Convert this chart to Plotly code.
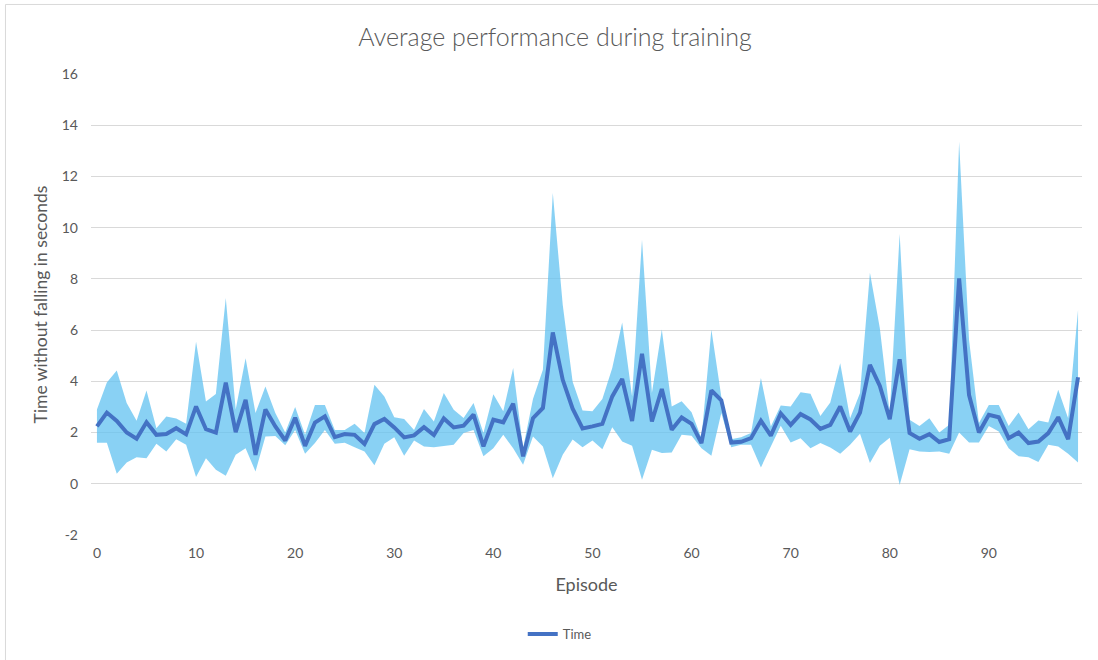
import plotly.graph_objects as go

episodes = list(range(100))

mean_time = [
    2.24, 2.78, 2.45, 2.00, 1.76, 2.40, 1.91, 1.94, 2.17, 1.93,
    3.02, 2.13, 2.00, 3.95, 2.02, 3.28, 1.13, 2.90, 2.24, 1.69,
    2.58, 1.48, 2.39, 2.63, 1.82, 1.94, 1.91, 1.55, 2.33, 2.53,
    2.20, 1.81, 1.89, 2.21, 1.90, 2.55, 2.20, 2.27, 2.70, 1.46,
    2.50, 2.40, 3.13, 1.07, 2.56, 2.96, 5.91, 4.06, 2.93, 2.16,
    2.24, 2.34, 3.41, 4.09, 2.45, 5.08, 2.43, 3.70, 2.11, 2.59,
    2.34, 1.59, 3.65, 3.26, 1.61, 1.64, 1.78, 2.46, 1.88, 2.75,
    2.30, 2.72, 2.51, 2.14, 2.30, 3.02, 2.04, 2.78, 4.64, 3.82,
    2.52, 4.86, 1.98, 1.76, 1.94, 1.63, 1.74, 8.02, 3.47, 2.00,
    2.69, 2.60, 1.78, 2.00, 1.59, 1.65, 1.98, 2.60, 1.74, 4.16,
]

upper_time = [
    2.90, 3.95, 4.42, 3.15, 2.46, 3.64, 2.17, 2.63, 2.55, 2.34,
    5.55, 3.21, 3.51, 7.25, 2.90, 4.90, 2.76, 3.80, 2.76, 2.00,
    3.00, 1.91, 3.08, 3.08, 2.10, 2.10, 2.34, 1.98, 3.87, 3.41,
    2.60, 2.53, 2.10, 2.92, 2.43, 3.54, 2.89, 2.57, 3.15, 1.98,
    3.50, 2.83, 4.52, 1.39, 3.31, 4.45, 11.35, 6.99, 3.98, 2.86,
    2.83, 3.31, 4.52, 6.30, 3.41, 9.53, 3.54, 6.02, 3.02, 3.22,
    2.79, 1.78, 6.02, 3.41, 1.74, 1.82, 1.98, 4.13, 2.24, 3.06,
    3.02, 3.57, 3.52, 2.65, 3.17, 4.71, 2.56, 3.54, 8.24, 6.07,
    2.75, 9.75, 2.50, 2.26, 2.56, 2.00, 2.30, 13.35, 5.62, 2.37,
    3.08, 3.08, 2.26, 2.78, 2.13, 2.47, 2.39, 3.67, 2.56, 6.79,
]

lower_time = [
    1.60, 1.60, 0.39, 0.83, 1.04, 1.00, 1.56, 1.26, 1.74, 1.52,
    0.26, 1.00, 0.55, 0.31, 1.13, 1.39, 0.48, 1.85, 1.87, 1.50,
    2.10, 1.17, 1.59, 2.10, 1.56, 1.60, 1.43, 1.26, 0.72, 1.56,
    1.82, 1.09, 1.69, 1.46, 1.43, 1.48, 1.52, 1.98, 2.10, 1.07,
    1.39, 1.91, 1.39, 0.74, 1.85, 1.46, 0.22, 1.13, 1.73, 1.43,
    1.69, 1.35, 2.21, 1.65, 1.48, 0.16, 1.33, 1.20, 1.22, 1.91,
    1.88, 1.39, 1.09, 2.76, 1.43, 1.52, 1.52, 0.64, 1.46, 2.27,
    1.61, 1.78, 1.39, 1.59, 1.42, 1.17, 1.52, 1.95, 0.81, 1.48,
    1.80, -0.05, 1.35, 1.26, 1.24, 1.26, 1.17, 2.00, 1.61, 1.61,
    2.26, 2.04, 1.39, 1.07, 1.04, 0.85, 1.52, 1.46, 1.17, 0.83,
]

x_ticks = [0, 10, 20, 30, 40, 50, 60, 70, 80, 90]
y_ticks = [-2, 0, 2, 4, 6, 8, 10, 12, 14, 16]
y_tick_labels = ["-2", "0", "2", "4", "6", "8", "10", "12", "14", "16"]

TEXT = "#595959"
FONT = "Lato"

fig = go.Figure()
fig.add_trace(go.Scatter(
    x=episodes, y=lower_time, mode="lines", line=dict(width=0, color="rgba(0,0,0,0)"),
    showlegend=False, hoverinfo="skip"))
fig.add_trace(go.Scatter(
    x=episodes, y=upper_time, mode="lines", line=dict(width=0, color="rgba(0,0,0,0)"),
    fill="tonexty", fillcolor="rgba(98,194,240,0.75)",
    showlegend=False, hoverinfo="skip"))
fig.add_trace(go.Scatter(
    x=episodes, y=mean_time, mode="lines", name="Time",
    line=dict(color="#4472C4", width=4, shape="linear")))

fig.update_layout(
    width=1098, height=660,
    paper_bgcolor="white", plot_bgcolor="white",
    margin=dict(l=91, r=16, t=74, b=125, autoexpand=False),
    font=dict(family=FONT, color=TEXT, size=14),
    title=dict(text="Average performance during training", xref="container", x=0.5055,
               y=1 - 37 / 660, yref="container", xanchor="center", yanchor="middle",
               font=dict(size=25, color=TEXT, family=FONT, weight=300)),
    showlegend=True,
    legend=dict(orientation="h", x=0.473, y=-0.2148, xanchor="center", yanchor="middle",
                font=dict(size=13, color=TEXT, family=FONT)),
    xaxis=dict(range=[-0.6, 99.4], tickvals=x_ticks, showgrid=False, zeroline=False,
               showline=False, ticks="", ticklabelstandoff=8, automargin=False,
               tickfont=dict(size=14, color=TEXT),
               title=dict(text="Episode", font=dict(size=18, color=TEXT), standoff=18)),
    yaxis=dict(range=[-2, 16], tickvals=y_ticks, ticktext=y_tick_labels, showgrid=True,
               gridcolor="#D9D9D9", gridwidth=1, zeroline=False, showline=False, ticks="",
               ticklabelstandoff=12, automargin=False, tickfont=dict(size=14, color=TEXT),
               title=dict(text="Time without falling in seconds",
                          font=dict(size=17.5, color=TEXT), standoff=9)),
    shapes=[dict(type="rect", xref="paper", yref="paper", x0=-0.0863, x1=1.02,
                 y0=-0.28, y1=1.1508, line=dict(color="#D9D9D9", width=1), layer="below")],
)

fig.write_html("out.html", config={"displayModeBar": False},
               post_script="document.body.style.margin='0px';")
